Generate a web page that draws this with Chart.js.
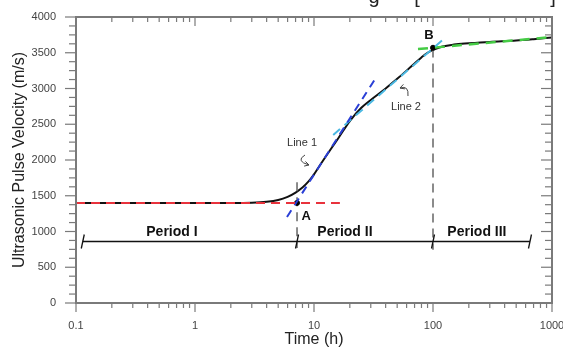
<!DOCTYPE html>
<html>
<head>
<meta charset="utf-8">
<script src="https://cdn.jsdelivr.net/npm/chart.js@4.4.0/dist/chart.umd.min.js"></script>
<style>
  html, body { margin: 0; padding: 0; background: #fff; }
  #wrap { width: 563px; height: 347px; position: relative; }
</style>
</head>
<body>
<div id="wrap"><canvas id="upvChart"></canvas></div>
<script>
// Ultrasonic pulse velocity vs time (log time axis)
const timeH = [0.1, 0.5, 1, 2, 3, 4, 5, 6, 7, 8, 9, 10, 12, 14, 16, 20, 25, 30, 40, 50, 60, 70, 80, 90, 100, 120, 150, 200, 300, 500, 700, 1000];
const upv = [1400, 1400, 1400, 1400, 1403, 1415, 1440, 1485, 1545, 1615, 1700, 1800, 2000, 2165, 2305, 2545, 2730, 2840, 3000, 3135, 3250, 3350, 3435, 3500, 3540, 3588, 3615, 3632, 3652, 3670, 3690, 3715];

// fitted lines
const redT = [0.1, 16.5], redV = [1400, 1400];
const line1T = [5.93, 32.6], line1V = [1203, 3133];
const line2T = [14.5, 126], line2V = [2350, 3706];
const greenT = [74.8, 1000], greenV = [3552, 3720];

// points A, B and their guide lines
const pointT = [7.2, 100], pointV = [1400, 3570];
const guideAV = [1690, 770], guideBV = [3560, 745];

// periods
const periodT = [0.114, 7.2, 100, 653];
const periodV = 860;
const periodNames = ['Period I', 'Period II', 'Period III'];

// ticks
const xTicks = [0.1, 1, 10, 100, 1000];
const yTicks = [0, 500, 1000, 1500, 2000, 2500, 3000, 3500, 4000];
const yMinorStep = 125;

const FONT = 'Arial, "Liberation Sans", sans-serif';
Chart.defaults.font.family = FONT;

function pts(ts, vs) {
    return ts.map((t, i) => ({ x: t, y: vs[i] }));
}

function line(ctx, x1, y1, x2, y2) {
    ctx.beginPath();
    ctx.moveTo(x1, y1);
    ctx.lineTo(x2, y2);
    ctx.stroke();
}

function arrowHead(ctx, tipX, tipY, fromX, fromY) {
    const ang = Math.atan2(tipY - fromY, tipX - fromX);
    const len = 5;
    line(ctx, tipX, tipY, tipX - len * Math.cos(ang - 0.5), tipY - len * Math.sin(ang - 0.5));
    line(ctx, tipX, tipY, tipX - len * Math.cos(ang + 0.5), tipY - len * Math.sin(ang + 0.5));
}

// frame, ticks, labels and little arrows
const decorPlugin = {
    id: 'decor',
    afterDatasetsDraw(chart) {
        const { ctx, scales: { x, y } } = chart;
        ctx.save();

        // slashes on the period line
        ctx.strokeStyle = '#111';
        ctx.lineWidth = 1.3;
        const py = y.getPixelForValue(periodV);
        periodT.forEach(t => {
            const px = x.getPixelForValue(t);
            line(ctx, px - 1.5, py + 7, px + 1.5, py - 7);
        });

        // period names
        ctx.fillStyle = '#111';
        ctx.font = 'bold 14px ' + FONT;
        ctx.textAlign = 'center';
        ctx.textBaseline = 'middle';
        const nameT = [0.64, 18.2, 234];
        periodNames.forEach((s, i) => {
            ctx.fillText(s, x.getPixelForValue(nameT[i]), y.getPixelForValue(1000) + 1);
        });

        // A and B
        ctx.font = 'bold 13px ' + FONT;
        ctx.fillText('A', x.getPixelForValue(8.6), y.getPixelForValue(1215));
        ctx.fillText('B', x.getPixelForValue(92.5), y.getPixelForValue(3740));

        // Line 1 / Line 2 notes
        ctx.font = '11px ' + FONT;
        ctx.fillStyle = '#333';
        const l1x = x.getPixelForValue(7.93), l1y = y.getPixelForValue(2238);
        ctx.fillText('Line 1', l1x, l1y);
        const l2x = x.getPixelForValue(59.3), l2y = y.getPixelForValue(2741);
        ctx.fillText('Line 2', l2x, l2y);

        ctx.strokeStyle = '#444';
        ctx.lineWidth = 1;
        ctx.beginPath();
        ctx.moveTo(l1x + 3, l1y + 12);
        ctx.quadraticCurveTo(l1x - 7, l1y + 18, l1x + 7, l1y + 22);
        ctx.stroke();
        arrowHead(ctx, l1x + 7, l1y + 22, l1x - 7, l1y + 18);

        ctx.beginPath();
        ctx.moveTo(l2x + 2, l2y - 11);
        ctx.quadraticCurveTo(l2x + 3, l2y - 22, l2x - 6, l2y - 19);
        ctx.stroke();
        arrowHead(ctx, l2x - 6, l2y - 19, l2x + 3, l2y - 22);

        ctx.restore();
    },
    afterDraw(chart) {
        const { ctx, chartArea: a, scales: { x, y } } = chart;
        ctx.save();
        ctx.strokeStyle = '#7a7a7a';
        ctx.lineWidth = 1.2;

        // x ticks: decades long, 2..9 short; out at bottom, in at top
        for (let d = -1; d < 3; d++) {
            for (let m = 1; m < 10; m++) {
                const px = x.getPixelForValue(m * Math.pow(10, d));
                const len = m === 1 ? 9 : 5;
                line(ctx, px, a.bottom, px, a.bottom + len);
                line(ctx, px, a.top, px, a.top + len);
            }
        }
        const pEnd = x.getPixelForValue(1000);
        line(ctx, pEnd, a.bottom, pEnd, a.bottom + 9);

        // y ticks: out at left, in at right
        for (let v = 0; v <= 4000; v += yMinorStep) {
            const pv = y.getPixelForValue(v);
            const len = v % 500 === 0 ? 11 : 7;
            line(ctx, a.left - len, pv, a.left, pv);
            line(ctx, a.right - len, pv, a.right, pv);
        }

        ctx.lineWidth = 2;
        ctx.strokeRect(a.left, a.top, a.right - a.left, a.bottom - a.top);

        // cut-off caption fragments at the top edge
        ctx.fillStyle = '#222';
        ctx.font = '20px ' + FONT;
        ctx.textAlign = 'center';
        ctx.textBaseline = 'alphabetic';
        ctx.fillText('g', 374, 3);
        ctx.fillText('[', 417, 3);
        ctx.fillText(']', 553, 3);
        ctx.restore();
    }
};

const dashed = (color, width, dash) => ({
    type: 'line',
    borderColor: color,
    borderWidth: width,
    borderDash: dash,
    pointRadius: 0,
    fill: false
});

new Chart(document.getElementById('upvChart').getContext('2d'), {
    type: 'scatter',
    data: {
        datasets: [
            { ...dashed('#e8323c', 2, [9, 6]), data: pts(redT, redV) },
            { ...dashed('#2a3fd6', 2, [8, 6]), data: pts(line1T, line1V) },
            { ...dashed('#4ab8e2', 2, [9, 6]), data: pts(line2T, line2V) },
            { ...dashed('#45cc45', 2.5, [10, 7]), data: pts(greenT, greenV) },
            {
                type: 'scatter', data: pts(pointT, pointV),
                pointRadius: 2.5, backgroundColor: '#000', borderColor: '#000'
            },
            { ...dashed('#666', 1.5, [9, 6]), data: pts([pointT[0], pointT[0]], guideAV) },
            { ...dashed('#666', 1.5, [9, 6]), data: pts([pointT[1], pointT[1]], guideBV) },
            { ...dashed('#111', 1.5, []), data: pts([periodT[0], periodT[3]], [periodV, periodV]) },
            {
                type: 'line',
                data: pts(timeH, upv),
                borderColor: '#111',
                borderWidth: 2,
                pointRadius: 0,
                cubicInterpolationMode: 'monotone',
                fill: false
            }
        ]
    },
    options: {
        responsive: true,
        maintainAspectRatio: false,
        animation: false,
        layout: { padding: { top: 17, right: 11, left: 0, bottom: 0 } },
        plugins: {
            legend: { display: false },
            tooltip: { enabled: false }
        },
        scales: {
            x: {
                type: 'logarithmic',
                min: 0.1,
                max: 1000,
                grid: { display: false, drawTicks: false },
                border: { display: false },
                afterBuildTicks: s => { s.ticks = xTicks.map(v => ({ value: v })); },
                afterFit: s => { s.height = 44; s.paddingLeft = 0; s.paddingRight = 0; },
                ticks: {
                    autoSkip: false,
                    maxRotation: 0,
                    padding: 16,
                    color: '#444',
                    font: { size: 11 },
                    callback: v => String(v)
                },
                title: {
                    display: true,
                    text: 'Time (h)',
                    color: '#222',
                    font: { size: 16 },
                    padding: { top: 0, bottom: -2 }
                }
            },
            y: {
                min: 0,
                max: 4000,
                grid: { display: false, drawTicks: false },
                border: { display: false },
                afterBuildTicks: s => { s.ticks = yTicks.map(v => ({ value: v })); },
                afterFit: s => { s.width = 76; s.paddingTop = 0; s.paddingBottom = 0; },
                ticks: {
                    padding: 20,
                    color: '#444',
                    font: { size: 11 },
                    callback: v => String(v)
                },
                title: {
                    display: true,
                    text: 'Ultrasonic Pulse Velocity (m/s)',
                    color: '#222',
                    font: { size: 16 },
                    padding: { top: 10, bottom: 0 }
                }
            }
        }
    },
    plugins: [decorPlugin]
});
</script>
</body>
</html>
